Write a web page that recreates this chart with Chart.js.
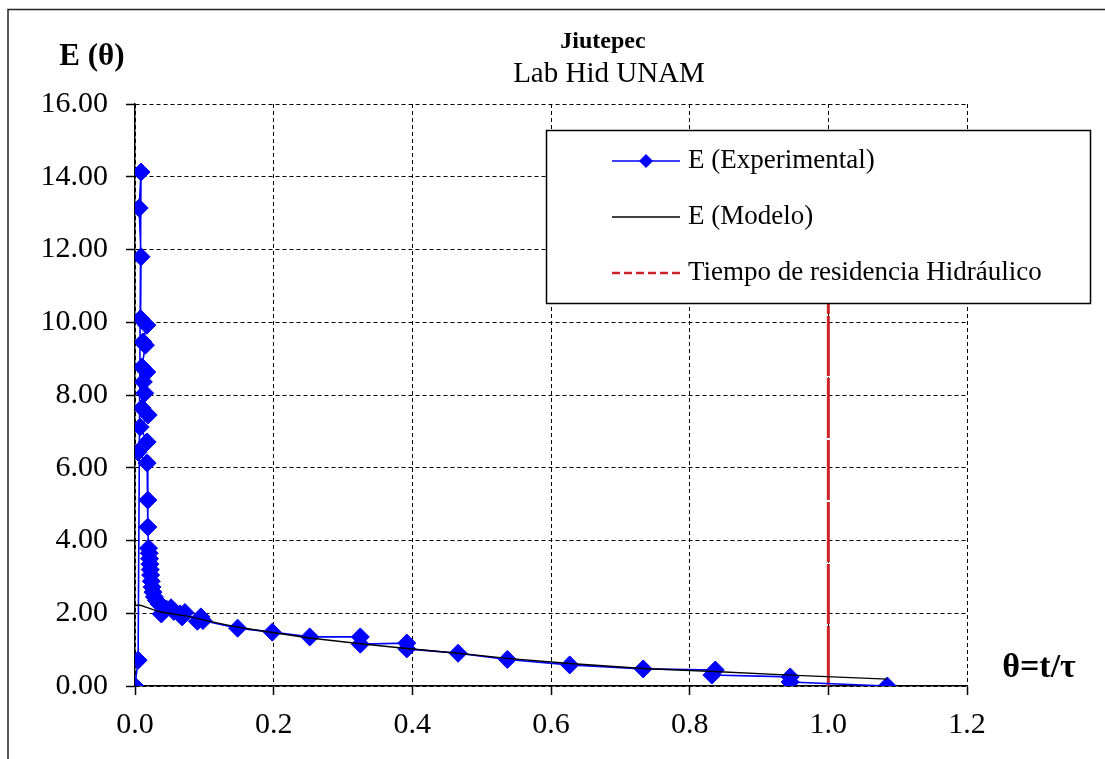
<!DOCTYPE html>
<html>
<head>
<meta charset="utf-8">
<script src="https://cdn.jsdelivr.net/npm/chart.js@4.4.1/dist/chart.umd.min.js"></script>
<style>
  body { margin: 0; background: #fff; }
  #wrap { width: 1105px; height: 759px; }
</style>
</head>
<body>
<div id="wrap"><canvas id="myChart"></canvas></div>
<script>
// theta = t/tau, E(theta)
const expTheta = [0, 0.0045, 0.0087, 0.0060, 0.0087, 0.0080, 0.0170, 0.0115, 0.0150, 0.0100,
  0.0170, 0.0120, 0.0140, 0.0100, 0.0190, 0.0075, 0.0175, 0.0045, 0.0175, 0.0185,
  0.0185, 0.0195, 0.0205, 0.0210, 0.0215, 0.0220, 0.0225, 0.0235, 0.0245, 0.0260,
  0.0280, 0.0310, 0.0350, 0.0400, 0.0380, 0.0450, 0.0520, 0.0560, 0.0650, 0.0680,
  0.0720, 0.0900, 0.0950, 0.0980, 0.148, 0.198, 0.252, 0.325, 0.325, 0.392,
  0.392, 0.466, 0.537, 0.627, 0.733, 0.837, 0.832, 0.945, 0.945, 1.085];
const expE = [0, 0.71, 14.13, 13.14, 11.80, 10.10, 9.92, 9.46, 9.37, 8.77,
  8.63, 8.36, 8.05, 7.64, 7.45, 7.12, 6.71, 6.43, 6.13, 5.11,
  4.37, 3.79, 3.65, 3.50, 3.35, 3.20, 3.05, 2.88, 2.72, 2.58,
  2.45, 2.35, 2.25, 2.18, 1.98, 2.12, 2.15, 2.05, 1.98, 1.90,
  2.02, 1.78, 1.90, 1.80, 1.59, 1.48, 1.35, 1.35, 1.15, 1.18,
  1.02, 0.90, 0.73, 0.58, 0.47, 0.44, 0.30, 0.25, 0.11, 0.0];

const modelTheta = [0, 0.008, 0.02, 0.035, 0.075, 0.12, 0.148, 0.198, 0.252, 0.325,
  0.392, 0.466, 0.537, 0.627, 0.733, 0.835, 0.945, 1.085];
const modelE = [2.22, 2.22, 2.14, 2.04, 1.92, 1.73, 1.62, 1.47, 1.32, 1.16,
  1.03, 0.90, 0.76, 0.62, 0.48, 0.40, 0.30, 0.19];

const tauTheta = [1.0, 1.0];
const tauE = [0, 12];

const xTicks = [0, 0.2, 0.4, 0.6, 0.8, 1.0, 1.2];
const xTickLabels = ['0.0', '0.2', '0.4', '0.6', '0.8', '1.0', '1.2'];
const yTicks = [0, 2, 4, 6, 8, 10, 12, 14, 16];
const yTickLabels = ['0.00', '2.00', '4.00', '6.00', '8.00', '10.00', '12.00', '14.00', '16.00'];

const seriesNames = ['E (Experimental)', 'E (Modelo)', 'Tiempo de residencia Hidráulico'];
const titleText = 'Jiutepec';
const subtitleText = 'Lab Hid UNAM';
const yCaption = 'E (\u03b8)';
const xCaption = '\u03b8=t/\u03c4';

const serif = '"Liberation Serif", "Times New Roman", serif';

function pts(xs, ys) {
  return xs.map((x, i) => ({ x: x, y: ys[i] }));
}

// frame, titles, captions and the legend box sitting over the plot
const decor = {
  id: 'decor',
  beforeDraw(chart) {
    const ctx = chart.ctx;
    ctx.save();
    ctx.fillStyle = '#fff';
    ctx.fillRect(0, 0, chart.width, chart.height);
    ctx.strokeStyle = '#222';
    ctx.lineWidth = 1.5;
    ctx.strokeRect(8, 9.5, chart.width + 20, chart.height + 20);
    ctx.restore();
  },
  afterDraw(chart) {
    const ctx = chart.ctx;
    ctx.save();
    ctx.fillStyle = '#000';
    ctx.textAlign = 'center';
    ctx.textBaseline = 'middle';
    ctx.font = 'bold 24px ' + serif;
    ctx.fillText(titleText, 603, 42);
    ctx.font = '29px ' + serif;
    ctx.fillText(subtitleText, 609, 74);
    ctx.font = 'bold 31px ' + serif;
    ctx.fillText(yCaption, 92, 57);
    ctx.font = 'bold 34px ' + serif;
    ctx.fillText(xCaption, 1039, 668);

    // legend
    const bx = 546, by = 130, bw = 544, bh = 173;
    ctx.fillStyle = '#fff';
    ctx.fillRect(bx, by, bw, bh);
    ctx.strokeStyle = '#000';
    ctx.lineWidth = 1.5;
    ctx.strokeRect(bx + 0.5, by + 0.5, bw, bh);

    const dashes = [[], [], [8, 4]];
    chart.data.datasets.forEach((ds, i) => {
      const y = by + 31 + i * 56;
      ctx.beginPath();
      ctx.setLineDash(dashes[i]);
      ctx.strokeStyle = ds.borderColor;
      ctx.lineWidth = i === 2 ? 2.5 : 1.5;
      ctx.moveTo(612, y);
      ctx.lineTo(680, y);
      ctx.stroke();
      ctx.setLineDash([]);
      if (ds.pointRadius) {
        ctx.beginPath();
        ctx.fillStyle = ds.pointBackgroundColor;
        ctx.moveTo(646, y - 7);
        ctx.lineTo(653, y);
        ctx.lineTo(646, y + 7);
        ctx.lineTo(639, y);
        ctx.closePath();
        ctx.fill();
      }
      ctx.fillStyle = '#000';
      ctx.textAlign = 'left';
      ctx.font = '27px ' + serif;
      ctx.fillText(ds.label, 688, y);
    });
    ctx.restore();
  }
};

const ctx = document.getElementById('myChart').getContext('2d');
const myChart = new Chart(ctx, {
  type: 'scatter',
  data: {
    datasets: [
      {
        label: seriesNames[0],
        data: pts(expTheta, expE),
        showLine: true,
        borderColor: '#0000FF',
        borderWidth: 1.6,
        pointStyle: 'rectRot',
        pointRadius: 9,
        pointBackgroundColor: '#0000FF',
        pointBorderColor: '#0000FF',
        pointBorderWidth: 1,
        order: 1
      },
      {
        label: seriesNames[1],
        data: pts(modelTheta, modelE),
        showLine: true,
        borderColor: '#000000',
        borderWidth: 1.4,
        pointRadius: 0,
        order: 0
      },
      {
        label: seriesNames[2],
        data: pts(tauTheta, tauE),
        showLine: true,
        borderColor: '#CC2229',
        borderWidth: 3,
        borderDash: [60, 2],
        pointRadius: 0,
        order: 2
      }
    ]
  },
  options: {
    responsive: true,
    maintainAspectRatio: false,
    animation: false,
    layout: { padding: { left: 0, top: 104, right: 138, bottom: 0 } },
    scales: {
      x: {
        type: 'linear',
        min: 0,
        max: 1.2,
        afterBuildTicks(scale) { scale.ticks = xTicks.map(v => ({ value: v })); },
        afterFit(scale) { scale.height = 73; },
        ticks: {
          color: '#000',
          padding: 12,
          font: { family: serif, size: 30 },
          callback: (v, i) => xTickLabels[i]
        },
        grid: { color: '#000', lineWidth: 1, tickLength: 9, tickColor: '#000', tickWidth: 1.5, tickBorderDash: [] },
        border: { color: '#000', width: 1.5, dash: [4, 3] }
      },
      y: {
        type: 'linear',
        min: 0,
        max: 16,
        afterBuildTicks(scale) { scale.ticks = yTicks.map(v => ({ value: v })); },
        afterFit(scale) { scale.width = 135; },
        ticks: {
          color: '#000',
          padding: 18,
          font: { family: serif, size: 30 },
          callback: (v, i) => yTickLabels[i]
        },
        grid: { color: '#000', lineWidth: 1, tickLength: 9, tickColor: '#000', tickWidth: 1.5, tickBorderDash: [] },
        border: { color: '#000', width: 1.5, dash: [4, 3] }
      }
    },
    plugins: {
      legend: { display: false },
      title: { display: false },
      tooltip: { enabled: false }
    }
  },
  plugins: [decor]
});
</script>
</body>
</html>
